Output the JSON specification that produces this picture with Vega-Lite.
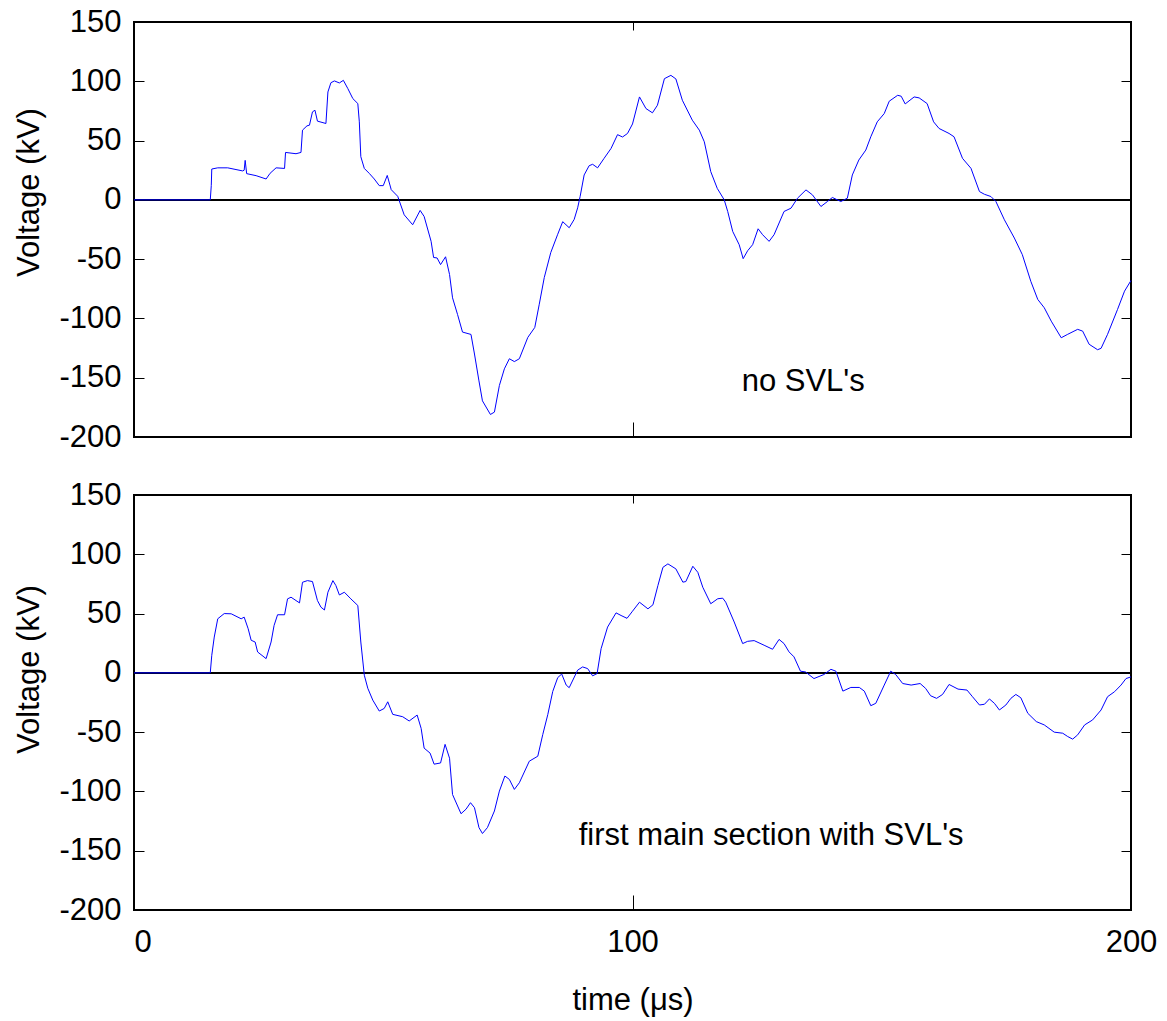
{
  "$schema": "https://vega.github.io/schema/vega-lite/v6.json",
  "background": "white",
  "padding": {"left": 12, "top": 5, "right": 5, "bottom": 5},
  "spacing": 25,
  "config": {
    "font": "Liberation Sans",
    "view": {"stroke": "black", "strokeWidth": 2},
    "axis": {
      "labelFont": "Liberation Sans", "labelFontSize": 31, "labelColor": "black",
      "titleFont": "Liberation Sans", "titleFontSize": 31, "titleFontWeight": "normal", "titleColor": "black",
      "tickColor": "black", "tickWidth": 1, "domain": false, "grid": false, "labelFlush": false
    }
  },
  "datasets": {
    "top": [
      {"t":0,"v":0},{"t":15.3,"v":0},{"t":15.5,"v":12},{"t":15.6,"v":26},{"t":16.8,"v":27},{"t":18.8,"v":27},{"t":21.8,"v":24.4},{"t":22.1,"v":25},{"t":22.3,"v":33.3},{"t":22.6,"v":22.1},{"t":24.5,"v":20.4},{"t":26.5,"v":17.6},{"t":27.3,"v":22.4},{"t":28.5,"v":27},{"t":30.2,"v":26.5},{"t":30.4,"v":40},{"t":32.5,"v":38.9},{"t":33.5,"v":40},{"t":33.8,"v":58.8},{"t":34.7,"v":62.4},{"t":35.2,"v":63},{"t":35.8,"v":74.2},{"t":36.3,"v":75.6},{"t":36.8,"v":66.4},{"t":38.5,"v":64.4},{"t":38.9,"v":91},{"t":39.5,"v":98.8},{"t":40.2,"v":100.3},{"t":41.2,"v":98.6},{"t":42,"v":100.8},{"t":42.9,"v":93.8},{"t":43.9,"v":85.4},{"t":44.9,"v":81.2},{"t":45.2,"v":65.8},{"t":45.5,"v":36.4},{"t":46.2,"v":26.5},{"t":47.2,"v":22.3},{"t":48.2,"v":17.6},{"t":49.2,"v":12},{"t":50,"v":12},{"t":50.8,"v":20.6},{"t":51.6,"v":8.6},{"t":52.9,"v":3},{"t":54.2,"v":-12.6},{"t":55.9,"v":-21},{"t":57.4,"v":-8.9},{"t":58.2,"v":-14},{"t":59.6,"v":-35},{"t":60.1,"v":-48.6},{"t":60.8,"v":-49},{"t":61.5,"v":-54.6},{"t":62.5,"v":-48},{"t":63.3,"v":-63},{"t":63.9,"v":-82.6},{"t":64.9,"v":-96.6},{"t":65.9,"v":-111.5},{"t":67.6,"v":-113.5},{"t":68.3,"v":-130},{"t":69.2,"v":-152.7},{"t":69.9,"v":-169.5},{"t":71.5,"v":-181},{"t":72.3,"v":-179},{"t":73.3,"v":-156.5},{"t":74.3,"v":-142.5},{"t":75.3,"v":-134},{"t":76.3,"v":-136.4},{"t":77.3,"v":-134},{"t":79,"v":-116},{"t":80.4,"v":-107.6},{"t":81.3,"v":-88},{"t":82.3,"v":-65.5},{"t":83.6,"v":-44.5},{"t":85,"v":-29},{"t":86,"v":-18.4},{"t":87.3,"v":-23.5},{"t":88.3,"v":-16.5},{"t":89,"v":-6.7},{"t":89.5,"v":3},{"t":90.3,"v":21},{"t":91.3,"v":28.8},{"t":92,"v":30},{"t":93,"v":27},{"t":94.3,"v":35},{"t":95.7,"v":43.4},{"t":97,"v":55},{"t":98,"v":53},{"t":99,"v":56},{"t":100,"v":64},{"t":101.4,"v":86.8},{"t":102.7,"v":77},{"t":104,"v":73.4},{"t":105,"v":79.8},{"t":106.4,"v":102.2},{"t":107.7,"v":105},{"t":108.7,"v":102},{"t":110,"v":84},{"t":112,"v":67.2},{"t":113.4,"v":58.8},{"t":114.4,"v":49},{"t":115.7,"v":23.8},{"t":117,"v":9.7},{"t":118.4,"v":0},{"t":119.1,"v":-9.8},{"t":120.1,"v":-26.6},{"t":121.4,"v":-37.8},{"t":122.2,"v":-49.6},{"t":123.1,"v":-42.9},{"t":124.1,"v":-37.8},{"t":125.2,"v":-24.4},{"t":126.1,"v":-29.4},{"t":127.4,"v":-35},{"t":128.4,"v":-29.4},{"t":130.4,"v":-9.8},{"t":131.8,"v":-7},{"t":133.1,"v":1.4},{"t":134.8,"v":8.4},{"t":136.1,"v":4.2},{"t":137.8,"v":-5.6},{"t":139.1,"v":-1.4},{"t":140.1,"v":2},{"t":141.8,"v":-1.4},{"t":143.1,"v":1.4},{"t":144.1,"v":21},{"t":145.4,"v":33.6},{"t":146.8,"v":42},{"t":147.8,"v":53.2},{"t":149.1,"v":65.8},{"t":150.5,"v":72.8},{"t":151.5,"v":83.2},{"t":153.2,"v":88.2},{"t":153.9,"v":87.4},{"t":154.7,"v":80.9},{"t":156.5,"v":86.8},{"t":157.5,"v":86},{"t":159.1,"v":81.2},{"t":160.4,"v":65.8},{"t":161.5,"v":60.2},{"t":163.5,"v":56},{"t":164.5,"v":53.2},{"t":166.2,"v":35},{"t":167.9,"v":26.6},{"t":169.6,"v":7},{"t":170.6,"v":4.7},{"t":171.9,"v":2.8},{"t":172.9,"v":-1.4},{"t":174.6,"v":-16.8},{"t":176.6,"v":-32.2},{"t":178.2,"v":-46.2},{"t":179.9,"v":-68.7},{"t":181.3,"v":-84},{"t":182.6,"v":-91},{"t":184,"v":-102.3},{"t":186,"v":-116.3},{"t":187.3,"v":-113.4},{"t":189.3,"v":-109.2},{"t":190.3,"v":-110.7},{"t":191.6,"v":-121.8},{"t":193.3,"v":-126.4},{"t":194,"v":-125.2},{"t":195.3,"v":-113.4},{"t":197.3,"v":-92.4},{"t":198.7,"v":-77},{"t":200,"v":-68}
    ],
    "bottom": [
      {"t":0,"v":0},{"t":15.3,"v":0},{"t":15.6,"v":14.8},{"t":16.1,"v":30.2},{"t":16.8,"v":45.6},{"t":18.1,"v":50},{"t":19.5,"v":49.8},{"t":21.5,"v":45.6},{"t":22.1,"v":47},{"t":22.9,"v":37.2},{"t":23.5,"v":27.5},{"t":24.3,"v":26},{"t":24.8,"v":17.6},{"t":26.5,"v":12},{"t":27.5,"v":26},{"t":28.1,"v":40},{"t":28.8,"v":49},{"t":30.2,"v":49},{"t":30.8,"v":62.4},{"t":31.5,"v":63.8},{"t":33.2,"v":59},{"t":33.8,"v":76.4},{"t":34.8,"v":77.8},{"t":35.8,"v":77},{"t":36.8,"v":61},{"t":37.5,"v":55.4},{"t":38.2,"v":53},{"t":38.9,"v":68},{"t":39.9,"v":77.8},{"t":40.5,"v":73.6},{"t":41.2,"v":65.7},{"t":42.2,"v":68},{"t":43.5,"v":62.4},{"t":44.9,"v":56.8},{"t":45.5,"v":26},{"t":46.2,"v":-2},{"t":46.9,"v":-13},{"t":47.9,"v":-23},{"t":49.2,"v":-32.2},{"t":50.2,"v":-30},{"t":50.9,"v":-24.4},{"t":51.9,"v":-35},{"t":53.9,"v":-37},{"t":55.2,"v":-40.6},{"t":56.8,"v":-35.6},{"t":57.6,"v":-46.8},{"t":58.2,"v":-63.5},{"t":59.4,"v":-67.7},{"t":60.2,"v":-77},{"t":61.5,"v":-76},{"t":62.4,"v":-60.3},{"t":63.3,"v":-72},{"t":63.9,"v":-102.6},{"t":65.6,"v":-118.8},{"t":66.6,"v":-115},{"t":67.5,"v":-109.5},{"t":68.3,"v":-113.7},{"t":69.2,"v":-130.5},{"t":69.9,"v":-135.5},{"t":70.9,"v":-130.5},{"t":72.3,"v":-116.5},{"t":73.3,"v":-99.7},{"t":74.4,"v":-87},{"t":75.3,"v":-89.9},{"t":76.3,"v":-98.3},{"t":77.3,"v":-92.7},{"t":79.3,"v":-74.5},{"t":81,"v":-70.3},{"t":82,"v":-52},{"t":83,"v":-35.3},{"t":84,"v":-15.7},{"t":85,"v":-4},{"t":85.8,"v":-1},{"t":86.7,"v":-10.3},{"t":87.3,"v":-12.5},{"t":89,"v":2.3},{"t":90,"v":5},{"t":91,"v":3.6},{"t":92,"v":-2.5},{"t":92.9,"v":-0.6},{"t":93.7,"v":20.4},{"t":95,"v":38.6},{"t":96.7,"v":50.6},{"t":97.7,"v":48.4},{"t":98.9,"v":46},{"t":100,"v":52},{"t":101.4,"v":59.6},{"t":103.1,"v":54},{"t":104.1,"v":57.4},{"t":105.1,"v":73.7},{"t":106.1,"v":89},{"t":107.1,"v":91.9},{"t":108.7,"v":87.7},{"t":110.1,"v":76.5},{"t":110.7,"v":77},{"t":112.1,"v":89.9},{"t":113.1,"v":84.8},{"t":114.1,"v":72.2},{"t":115.7,"v":58.3},{"t":117.1,"v":62.5},{"t":118.1,"v":63},{"t":118.7,"v":59.6},{"t":120.4,"v":42.9},{"t":122.1,"v":24.7},{"t":123.1,"v":26.6},{"t":124.4,"v":27.2},{"t":126.4,"v":23.3},{"t":128.1,"v":19.9},{"t":129.4,"v":28.2},{"t":130.4,"v":24.7},{"t":131.4,"v":17.7},{"t":132.4,"v":13.5},{"t":133.7,"v":1.4},{"t":134.7,"v":0.8},{"t":136.4,"v":-4.8},{"t":138.4,"v":-1.4},{"t":139.8,"v":3},{"t":140.8,"v":1.4},{"t":142.2,"v":-15.4},{"t":143.8,"v":-12.3},{"t":145.5,"v":-12.3},{"t":146.5,"v":-15.4},{"t":147.8,"v":-27.7},{"t":148.8,"v":-25.7},{"t":150.5,"v":-10.3},{"t":151.8,"v":1.4},{"t":152.8,"v":-1.4},{"t":154.2,"v":-9},{"t":155.9,"v":-10.3},{"t":157.7,"v":-9},{"t":158.8,"v":-13.1},{"t":159.8,"v":-19.3},{"t":161,"v":-21.5},{"t":162.2,"v":-18.2},{"t":163.5,"v":-9.8},{"t":165.3,"v":-13.7},{"t":167.1,"v":-14.5},{"t":168.2,"v":-20.1},{"t":169.6,"v":-27.1},{"t":170.6,"v":-26.5},{"t":171.6,"v":-22},{"t":172.6,"v":-25.7},{"t":173.6,"v":-31.3},{"t":174.9,"v":-27.1},{"t":175.9,"v":-21.5},{"t":176.9,"v":-18.2},{"t":177.9,"v":-21},{"t":179.3,"v":-34.1},{"t":181,"v":-41.1},{"t":182.6,"v":-43.9},{"t":184.6,"v":-50},{"t":186.3,"v":-50.9},{"t":187.3,"v":-53.7},{"t":188.3,"v":-55.9},{"t":189.3,"v":-52.3},{"t":190.7,"v":-43.9},{"t":192.3,"v":-39.7},{"t":194,"v":-31.3},{"t":195.3,"v":-20.1},{"t":196.7,"v":-15.9},{"t":198,"v":-10.3},{"t":199,"v":-4.8},{"t":200,"v":-3.4}
    ]
  },
  "vconcat": [
    {
      "width": 997, "height": 415,
      "data": {"name": "top"},
      "resolve": {"scale": {"x": "independent", "y": "independent"}},
      "layer": [
        {
          "mark": {"type": "rule", "color": "black", "strokeWidth": 1},
          "encoding": {
            "y": {"datum": 0, "type": "quantitative", "scale": {"domain": [-200, 150], "nice": false, "zero": false},
                  "axis": {"orient": "right", "values": [-200,-150,-100,-50,0,50,100,150], "labels": false, "tickSize": -10, "title": null}}
          }
        },
        {
          "mark": {"type": "line", "color": "#0000ff", "strokeWidth": 1, "interpolate": "linear"},
          "encoding": {
            "x": {"field": "t", "type": "quantitative", "scale": {"domain": [0, 200], "nice": false, "zero": false},
                  "axis": {"orient": "bottom", "values": [0,100,200], "labels": false, "tickSize": -15, "title": null}},
            "y": {"field": "v", "type": "quantitative", "scale": {"domain": [-200, 150], "nice": false, "zero": false},
                  "axis": {"orient": "left", "values": [-200,-150,-100,-50,0,50,100,150], "labelExpr": "'' + datum.value", "tickSize": -10, "labelPadding": 23, "title": "Voltage (kV)", "titleX": -89, "titleY": 170}}
          }
        },
        {
          "data": {"values": [{"t": 121.9, "v": -161, "label": "no SVL's"}]},
          "mark": {"type": "text", "align": "left", "baseline": "alphabetic", "fontSize": 31, "font": "Liberation Sans", "color": "black"},
          "encoding": {
            "x": {"field": "t", "type": "quantitative", "scale": {"domain": [0, 200], "nice": false, "zero": false},
                  "axis": {"orient": "top", "values": [0,100,200], "labels": false, "tickSize": -8, "title": null}},
            "y": {"field": "v", "type": "quantitative", "scale": {"domain": [-200, 150], "nice": false, "zero": false}, "axis": null},
            "text": {"field": "label"}
          }
        }
      ]
    },
    {
      "width": 997, "height": 415,
      "data": {"name": "bottom"},
      "resolve": {"scale": {"x": "independent", "y": "independent"}},
      "layer": [
        {
          "mark": {"type": "rule", "color": "black", "strokeWidth": 1},
          "encoding": {
            "y": {"datum": 0, "type": "quantitative", "scale": {"domain": [-200, 150], "nice": false, "zero": false},
                  "axis": {"orient": "right", "values": [-200,-150,-100,-50,0,50,100,150], "labels": false, "tickSize": -10, "title": null}}
          }
        },
        {
          "mark": {"type": "line", "color": "#0000ff", "strokeWidth": 1, "interpolate": "linear"},
          "encoding": {
            "x": {"field": "t", "type": "quantitative", "scale": {"domain": [0, 200], "nice": false, "zero": false},
                  "axis": {"orient": "bottom", "values": [0,100,200], "tickSize": -15, "labelPadding": 32,
                           "labelAlign": {"condition": {"test": "datum.value == 0", "value": "left"}, "value": "center"},
                           "title": "time (μs)", "titlePadding": 28}},
            "y": {"field": "v", "type": "quantitative", "scale": {"domain": [-200, 150], "nice": false, "zero": false},
                  "axis": {"orient": "left", "values": [-200,-150,-100,-50,0,50,100,150], "labelExpr": "'' + datum.value", "tickSize": -10, "labelPadding": 23, "title": "Voltage (kV)", "titleX": -89, "titleY": 174}}
          }
        },
        {
          "data": {"values": [{"t": 89.2, "v": -145, "label": "first main section with SVL's"}]},
          "mark": {"type": "text", "align": "left", "baseline": "alphabetic", "fontSize": 31, "font": "Liberation Sans", "color": "black"},
          "encoding": {
            "x": {"field": "t", "type": "quantitative", "scale": {"domain": [0, 200], "nice": false, "zero": false},
                  "axis": {"orient": "top", "values": [0,100,200], "labels": false, "tickSize": -8, "title": null}},
            "y": {"field": "v", "type": "quantitative", "scale": {"domain": [-200, 150], "nice": false, "zero": false}, "axis": null},
            "text": {"field": "label"}
          }
        }
      ]
    }
  ]
}
